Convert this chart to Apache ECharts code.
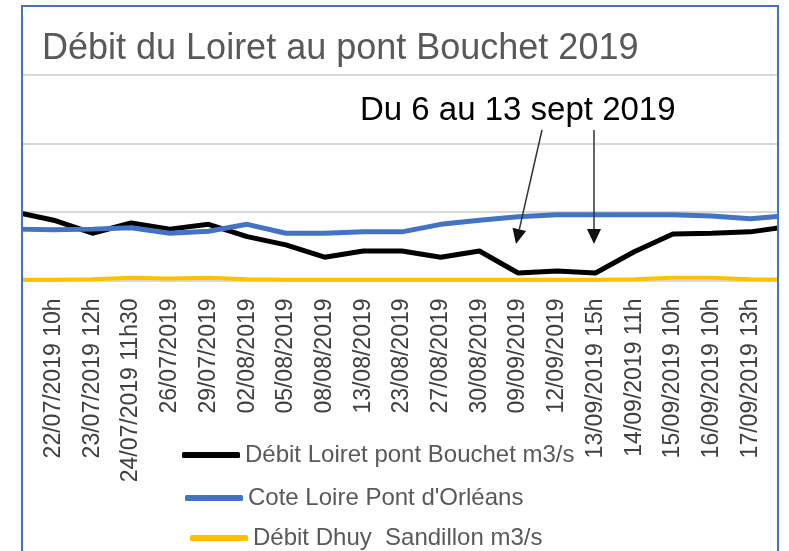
<!DOCTYPE html>
<html>
<head>
<meta charset="utf-8">
<script src="https://cdn.jsdelivr.net/npm/echarts@6/dist/echarts.min.js"></script>
<style>
  body { margin: 0; background: #fff; }
  #main { width: 789px; height: 551px; }
</style>
</head>
<body>
<div id="main"></div>
<script>
// les deux catégories vides sont coupées par le cadre de la capture
var categories = ['', '22/07/2019 10h', '23/07/2019 12h', '24/07/2019 11h30', '26/07/2019', '29/07/2019',
  '02/08/2019', '05/08/2019', '08/08/2019', '13/08/2019', '23/08/2019', '27/08/2019', '30/08/2019',
  '09/09/2019', '12/09/2019', '13/09/2019 15h', '14/09/2019 11h', '15/09/2019 10h', '16/09/2019 10h',
  '17/09/2019 13h', ''];
var debitLoiret = [1.00, 0.88, 0.69, 0.84, 0.75, 0.82, 0.64, 0.52, 0.34, 0.43, 0.43, 0.34, 0.43,
  0.11, 0.14, 0.11, 0.42, 0.68, 0.69, 0.71, 0.79];
var coteLoire = [0.75, 0.74, 0.75, 0.77, 0.69, 0.72, 0.82, 0.69, 0.69, 0.71, 0.71, 0.82, 0.88,
  0.93, 0.96, 0.96, 0.96, 0.96, 0.94, 0.90, 0.95];
var debitDhuy = [0.01, 0.01, 0.02, 0.04, 0.03, 0.04, 0.02, 0.01, 0.01, 0.01, 0.01, 0.01, 0.01,
  0.01, 0.01, 0.01, 0.02, 0.04, 0.04, 0.02, 0.01];
var seriesNames = ['Débit Loiret pont Bouchet m3/s', "Cote Loire Pont d'Orléans", 'Débit Dhuy  Sandillon m3/s'];

var chart = echarts.init(document.getElementById('main'));
var font = 'Liberation Sans, Arial, sans-serif';
var frameColor = '#4472c4';

function legendFor(name, left, top) {
  return {
    data: [name],
    left: left,
    top: top,
    padding: 0,
    orient: 'vertical',
    icon: 'roundRect',
    itemWidth: 58,
    itemHeight: 6,
    itemGap: 0,
    textStyle: { fontFamily: font, fontSize: 24, color: '#595959' }
  };
}

var option = {
  animation: false,
  backgroundColor: '#fff',
  title: [
    {
      text: 'Débit du Loiret au pont Bouchet 2019',
      left: 37,
      top: 26,
      textStyle: { fontFamily: font, fontSize: 36, fontWeight: 'normal', color: '#595959' }
    },
    {
      text: 'Du 6 au 13 sept 2019',
      left: 355,
      top: 89,
      textStyle: { fontFamily: font, fontSize: 33, fontWeight: 'normal', color: '#000' }
    }
  ],
  legend: [
    legendFor(seriesNames[0], 182, 443),
    legendFor(seriesNames[1], 185, 486),
    legendFor(seriesNames[2], 190, 526)
  ],
  grid: { left: 15, right: -6, top: 75, bottom: 270.5, containLabel: false },
  xAxis: {
    type: 'category',
    data: categories,
    boundaryGap: false,
    axisLine: { show: false },
    axisTick: { show: false },
    axisLabel: {
      interval: 0,
      rotate: 90,
      margin: 18,
      padding: [0, 0, 8, 0],
      fontFamily: font,
      fontSize: 23,
      color: '#404040'
    }
  },
  yAxis: {
    type: 'value',
    min: 0,
    max: 3,
    interval: 1,
    axisLabel: { show: false },
    axisLine: { show: false },
    axisTick: { show: false },
    splitLine: { lineStyle: { color: '#d9d9d9', width: 2 } }
  },
  series: [
    {
      name: seriesNames[0],
      type: 'line',
      data: debitLoiret,
      symbol: 'none',
      color: '#000',
      lineStyle: { width: 5, color: '#000' }
    },
    {
      name: seriesNames[1],
      type: 'line',
      data: coteLoire,
      symbol: 'none',
      color: '#4472c4',
      lineStyle: { width: 5, color: '#4472c4' }
    },
    {
      name: seriesNames[2],
      type: 'line',
      data: debitDhuy,
      symbol: 'none',
      color: '#ffc000',
      lineStyle: { width: 4, color: '#ffc000' }
    }
  ],
  graphic: [
    // masque hors cadre + cadre bleu
    { type: 'rect', z: 100, shape: { x: 0, y: 0, width: 21, height: 551 }, style: { fill: '#fff' } },
    { type: 'rect', z: 100, shape: { x: 779, y: 0, width: 10, height: 551 }, style: { fill: '#fff' } },
    { type: 'rect', z: 100, shape: { x: 0, y: 0, width: 789, height: 5 }, style: { fill: '#fff' } },
    { type: 'polyline', z: 101, shape: { points: [[22, 551], [22, 6], [778, 6], [778, 551]] },
      style: { stroke: frameColor, lineWidth: 2, fill: null } },
    // flèches de l'annotation
    { type: 'line', z: 50, shape: { x1: 542, y1: 130, x2: 519.3, y2: 229.4 },
      style: { stroke: '#333', lineWidth: 1.5 } },
    { type: 'polygon', z: 50, shape: { points: [[516, 244], [526.1, 231], [512.5, 227.8]] },
      style: { fill: '#111' } },
    { type: 'line', z: 50, shape: { x1: 594, y1: 130, x2: 594, y2: 229 },
      style: { stroke: '#333', lineWidth: 1.5 } },
    { type: 'polygon', z: 50, shape: { points: [[594, 244], [601, 229], [587, 229]] },
      style: { fill: '#111' } }
  ]
};

chart.setOption(option);
</script>
</body>
</html>
